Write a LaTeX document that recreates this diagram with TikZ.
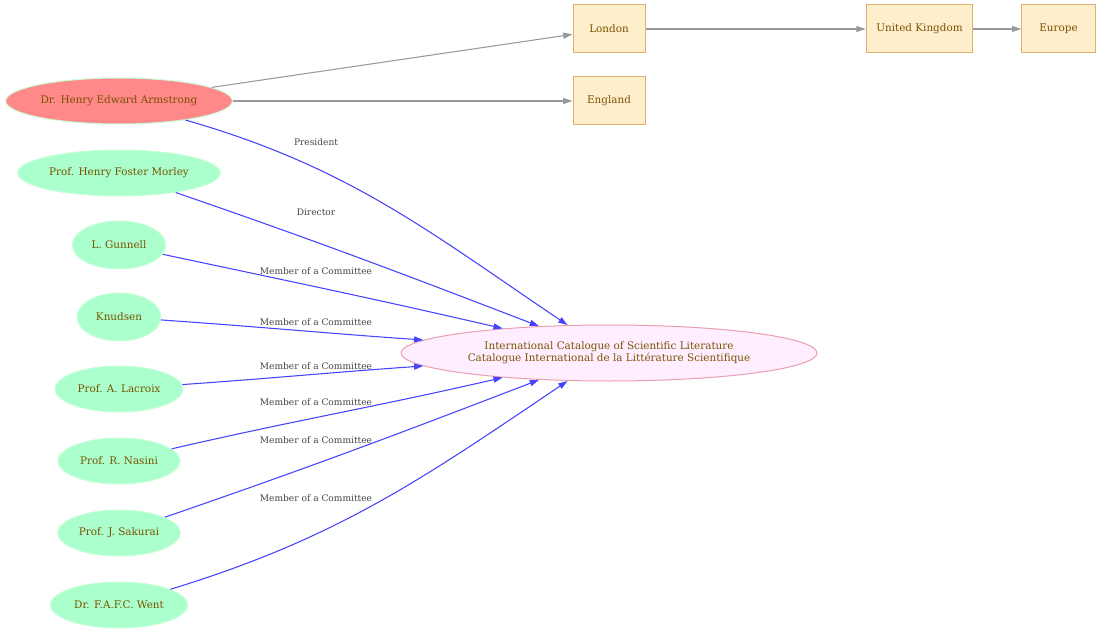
\documentclass[tikz,border=0pt]{standalone}
\usepackage{fontspec}
\setmainfont{DejaVu Serif}
\usepackage{tikz}
\usetikzlibrary{shapes.geometric,arrows.meta}

\definecolor{persfill}{HTML}{AAFFCC}
\definecolor{persline}{HTML}{C8FFD8}
\definecolor{headfill}{HTML}{FF8888}
\definecolor{workfill}{HTML}{FFEEFF}
\definecolor{workline}{HTML}{E8A0B0}
\definecolor{placefill}{HTML}{FFEECC}
\definecolor{placeline}{HTML}{E0B070}
\definecolor{nodetext}{HTML}{7A5200}
\definecolor{lbltext}{HTML}{444444}
\definecolor{rolecol}{HTML}{4444FF}
\definecolor{linkcol}{HTML}{999999}

\begin{document}
\begin{tikzpicture}[x=0.75pt,y=-0.75pt,
        person/.style={ellipse,draw=persline,fill=persfill,line width=0.75pt,inner sep=0pt,
                       minimum height=34.5pt,text=nodetext,font=\fontsize{7.8}{9}\selectfont},
        head/.style={person,fill=headfill},
        work/.style={ellipse,draw=workline,fill=workfill,line width=0.75pt,inner sep=0pt,
                     minimum width=312pt,minimum height=42pt,align=center,text=nodetext,
                     font=\fontsize{7.8}{9}\selectfont},
        place/.style={rectangle,draw=placeline,fill=placefill,line width=0.75pt,inner sep=0pt,
                      minimum height=36pt,text=nodetext,font=\fontsize{7.8}{9}\selectfont},
        role/.style={draw=rolecol,line width=0.8pt,-{Triangle[length=7pt,width=4.5pt]}},
        link/.style={draw=linkcol,line width=0.8pt,-{Triangle[length=7pt,width=4.5pt]}},
        lbl/.style={text=lbltext,inner sep=1pt,font=\fontsize{6.8}{8}\selectfont}]
        \useasboundingbox (0,0) rectangle (1100,635);
        % people
        \node[head,minimum width=170pt]   (arm) at (119,101) {Dr. Henry Edward Armstrong};
        \node[person,minimum width=152pt] (mor) at (119,173) {Prof. Henry Foster Morley};
        \node[person,minimum width=70pt,minimum height=36pt] (gun) at (119,245) {L. Gunnell};
        \node[person,minimum width=63pt,minimum height=36pt] (knu) at (119,317) {Knudsen};
        \node[person,minimum width=96pt]  (lac) at (119,389) {Prof. A. Lacroix};
        \node[person,minimum width=91.5pt] (nas) at (119,461) {Prof. R. Nasini};
        \node[person,minimum width=92pt]  (sak) at (119,533) {Prof. J. Sakurai};
        \node[person,minimum width=103pt] (wen) at (119,605) {Dr. F.A.F.C. Went};
        % catalogue
        \node[work] (cat) at (609,353) {International Catalogue of Scientific Literature\\
                                        Catalogue International de la Littérature Scientifique};
        % places
        \node[place,minimum width=54pt] (lon) at (609,29)    {London};
        \node[place,minimum width=54pt] (eng) at (609,101)   {England};
        \node[place,minimum width=80pt] (uk)  at (919.5,29)  {United Kingdom};
        \node[place,minimum width=55pt] (eur) at (1058.5,29) {Europe};
        % located in
        \draw[link] (arm) -- (lon);
        \draw[link] (arm) -- (eng);
        \draw[link] (lon) -- (uk);
        \draw[link] (uk)  -- (eur);
        % roles
        \draw[role] (arm) to[out=-16,in=146] (cat);
        \draw[role] (mor) to[out=-19,in=159] (cat);
        \draw[role] (gun) to[out=-12,in=167] (cat);
        \draw[role] (knu) to[out=-4,in=176]  (cat);
        \draw[role] (lac) to[out=4,in=184]   (cat);
        \draw[role] (nas) to[out=13,in=193]  (cat);
        \draw[role] (sak) to[out=19,in=201]  (cat);
        \draw[role] (wen) to[out=17,in=214]  (cat);
        % labels
        \node[lbl] (lpre) at (316,142) {President};
        \node[lbl] (ldir) at (316,212) {Director};
        \node[lbl] (lgun) at (316,271) {Member of a Committee};
        \node[lbl] (lknu) at (316,322) {Member of a Committee};
        \node[lbl] (llac) at (316,366) {Member of a Committee};
        \node[lbl] (lnas) at (316,402) {Member of a Committee};
        \node[lbl] (lsak) at (316,440) {Member of a Committee};
        \node[lbl] (lwen) at (316,498) {Member of a Committee};
\end{tikzpicture}
\end{document}
